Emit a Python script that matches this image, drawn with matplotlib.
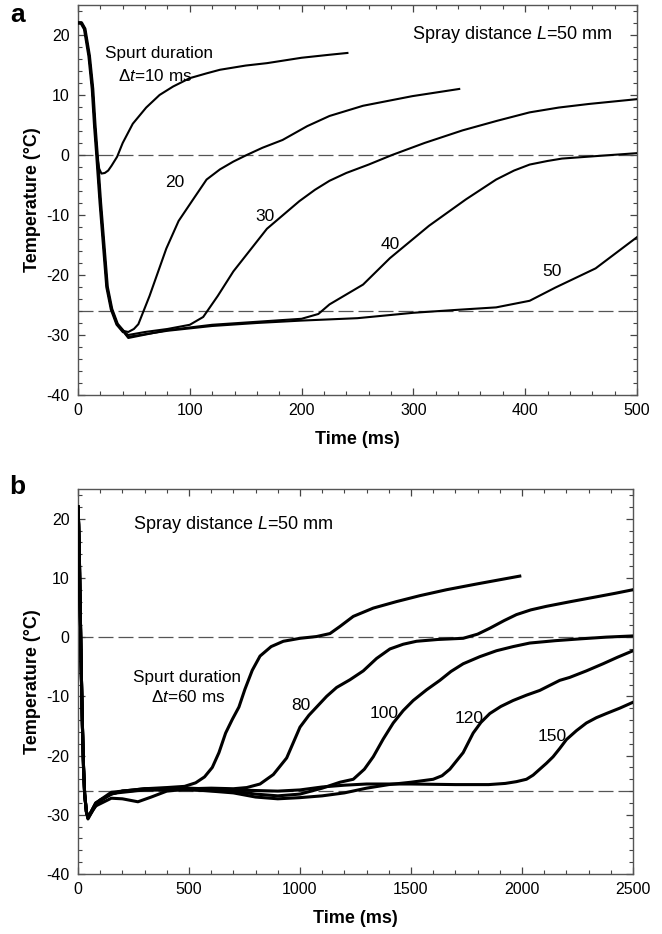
"""Spray cooling: surface temperature vs time for several spurt durations (panels a, b)."""
import matplotlib
matplotlib.use("Agg")
import matplotlib.pyplot as plt
from matplotlib.ticker import MultipleLocator

plt.rcParams["font.family"] = ["Liberation Sans", "DejaVu Sans"]
plt.rcParams["mathtext.fontset"] = "custom"
plt.rcParams["mathtext.rm"] = "Liberation Sans"
plt.rcParams["mathtext.it"] = "Liberation Sans:italic"
plt.rcParams["axes.unicode_minus"] = False

# ---- panel a: L = 50 mm, spurts of 10..50 ms (time in ms, temperature in degC)
a_drop_t = [0, 3, 6, 10, 13, 15, 17]
a_drop_T = [22, 22, 21, 16.5, 11, 5, 0]
a_fall_t = [18.5, 20, 23, 26, 30, 35, 40]
a_fall_T = [-4, -8, -15, -22, -25.7, -28.2, -29.3]

a10_t = [19, 21, 24, 27, 30, 35, 40, 49, 61, 73, 85, 100, 115, 127, 150, 169, 200, 225, 241]
a10_T = [-2.3, -3.1, -3.0, -2.6, -1.8, -0.3, 2.0, 5.2, 7.9, 10.0, 11.4, 12.8, 13.6, 14.2, 14.9,
         15.3, 16.2, 16.7, 17.0]

a20_t = [45, 50, 54, 64, 79, 90, 103, 115, 127, 139, 151, 165, 183, 205, 225, 255, 299, 341]
a20_T = [-29.5, -29.0, -28.2, -23.5, -15.6, -11.0, -7.4, -4.1, -2.4, -1.1, 0.0, 1.2, 2.5, 4.8,
         6.5, 8.2, 9.8, 11.0]

a30_t = [45, 60, 80, 100, 112, 125, 139, 169, 198, 212, 225, 240, 260, 281, 310, 344, 375, 404,
         430, 457, 500]
a30_T = [-30.0, -29.5, -29.0, -28.3, -27.0, -23.5, -19.4, -12.3, -7.7, -5.8, -4.3, -3.0, -1.6,
         0.0, 2.0, 4.1, 5.7, 7.1, 7.9, 8.5, 9.3]

a40_t = [45, 80, 120, 160, 200, 215, 225, 255, 279, 314, 347, 374, 390, 404, 420, 433, 470, 500]
a40_T = [-30.5, -29.2, -28.3, -27.8, -27.3, -26.5, -24.9, -21.6, -17.2, -11.8, -7.4, -4.1, -2.6,
         -1.6, -1.0, -0.6, -0.1, 0.3]

a50_t = [45, 80, 120, 160, 200, 250, 300, 340, 374, 404, 427, 463, 500]
a50_T = [-30.3, -29.3, -28.5, -28.0, -27.6, -27.2, -26.3, -25.8, -25.4, -24.3, -22.1, -18.9, -13.7]

# ---- panel b: L = 50 mm, spurts of 60..150 ms
b_drop_t = [0, 3, 6, 10, 15, 20, 25, 30, 38]
b_drop_T = [22, 19, 14, 5, -6, -15, -22, -26.5, -29.5]

b60_t = [45, 70, 100, 150, 200, 300, 400, 480, 530, 570, 605, 635, 665, 695, 725, 752, 785, 820,
         870, 925, 1000, 1075, 1135, 1180, 1240, 1330, 1435, 1540, 1660, 1800, 1975, 1990]
b60_T = [-30.7, -29.0, -27.5, -26.5, -26.0, -25.6, -25.4, -25.2, -24.6, -23.6, -22.0, -19.5, -16.2,
         -13.9, -11.8, -8.8, -5.6, -3.2, -1.6, -0.7, -0.2, 0.1, 0.6, 1.8, 3.5, 4.9, 6.0, 7.0, 8.0,
         9.0, 10.2, 10.3]

b80_t = [45, 80, 150, 200, 270, 330, 400, 500, 600, 700, 760, 820, 880, 940, 970, 1000, 1040, 1075,
         1120, 1165, 1225, 1285, 1345, 1405, 1465, 1525, 1620, 1735, 1800, 1855, 1920, 1975, 2040,
         2110, 2220, 2335, 2420, 2500]
b80_T = [-30.5, -28.5, -27.2, -27.3, -27.8, -27.0, -26.0, -25.6, -25.5, -25.6, -25.4, -24.8, -23.2,
         -20.4, -17.8, -15.2, -13.2, -11.8, -10.0, -8.5, -7.2, -5.7, -3.6, -2.0, -1.2, -0.7, -0.4,
         -0.2, 0.5, 1.5, 2.8, 3.8, 4.6, 5.2, 6.0, 6.8, 7.4, 8.0]

b100_t = [45, 80, 150, 200, 300, 500, 700, 800, 900, 1000, 1100, 1180, 1240, 1290, 1330, 1375, 1420,
          1465, 1510, 1570, 1630, 1680, 1735, 1810, 1885, 1960, 2035, 2150, 2260, 2380, 2500]
b100_T = [-30.5, -28.0, -26.5, -26.0, -25.8, -25.8, -26.0, -26.5, -26.8, -26.5, -25.5, -24.5, -24.0,
          -22.3, -20.2, -17.2, -14.5, -12.4, -10.7, -8.9, -7.3, -5.8, -4.5, -3.3, -2.3, -1.6, -1.0,
          -0.6, -0.3, 0.0, 0.2]

b120_t = [45, 80, 150, 300, 500, 700, 800, 900, 1000, 1100, 1200, 1300, 1400, 1500, 1600, 1640,
          1675, 1735, 1780, 1815, 1855, 1905, 1960, 2020, 2080, 2170, 2215, 2290, 2365, 2430, 2500]
b120_T = [-30.5, -28.2, -26.4, -25.8, -25.7, -26.3, -27.0, -27.3, -27.1, -26.8, -26.3, -25.5, -24.9,
          -24.5, -24.0, -23.4, -22.3, -19.5, -16.2, -14.4, -12.9, -11.7, -10.7, -9.8, -9.0, -7.3,
          -6.8, -5.7, -4.5, -3.4, -2.3]

b150_t = [45, 80, 150, 300, 500, 700, 900, 1000, 1100, 1200, 1300, 1500, 1700, 1850, 1925, 1975,
          2020, 2050, 2080, 2110, 2140, 2170, 2200, 2245, 2290, 2335, 2380, 2440, 2500]
b150_T = [-30.5, -28.0, -26.2, -25.6, -25.5, -25.8, -26.0, -25.8, -25.3, -25.0, -24.8, -24.8, -24.9,
          -24.9, -24.7, -24.4, -24.0, -23.3, -22.3, -21.3, -20.2, -18.8, -17.3, -15.8, -14.5, -13.6,
          -12.9, -12.0, -11.0]

REF_LEVELS = [0, -26]   # dashed guide lines


def style_axes(ax, xmax, xmajor, xminor):
    ax.set_xlim(0, xmax)
    ax.set_ylim(-40, 25)
    ax.xaxis.set_major_locator(MultipleLocator(xmajor))
    ax.xaxis.set_minor_locator(MultipleLocator(xminor))
    ax.yaxis.set_major_locator(MultipleLocator(10))
    ax.yaxis.set_minor_locator(MultipleLocator(2))
    ax.set_yticks([-40, -30, -20, -10, 0, 10, 20])
    ax.tick_params(which="both", direction="in", top=True, right=True, color="#444444")
    ax.tick_params(which="major", length=5, width=0.9, labelsize=11.5, pad=6)
    ax.tick_params(which="minor", length=3, width=0.8)
    for s in ax.spines.values():
        s.set_color("#555555")
        s.set_linewidth(1.0)
    for lev in REF_LEVELS:
        ax.axhline(lev, color="#555555", lw=0.9, dashes=(12, 4), zorder=1)
    ax.set_xlabel("Time (ms)", fontsize=13, fontweight="bold", labelpad=9)
    ax.set_ylabel("Temperature (\u00b0C)", fontsize=13, fontweight="bold", labelpad=4)


fig = plt.figure(figsize=(6.62, 9.34), dpi=100)
ax_a = fig.add_axes([0.1178, 0.5771, 0.8444, 0.4176])
ax_b = fig.add_axes([0.1178, 0.0642, 0.8384, 0.4122])

# panel a
lw_a = 1.5
ax_a.plot(a_drop_t + a10_t, a_drop_T + a10_T, color="black", lw=lw_a, zorder=3)
for t, T in [(a20_t, a20_T), (a30_t, a30_T), (a40_t, a40_T), (a50_t, a50_T)]:
    ax_a.plot(a_drop_t + a_fall_t + t, a_drop_T + a_fall_T + T, color="black", lw=lw_a, zorder=3)
ax_a.plot(a_drop_t + a_fall_t, a_drop_T + a_fall_T, color="black", lw=2.6, zorder=4)
style_axes(ax_a, 500, 100, 20)

ax_a.text(24, 16.9, "Spurt duration", fontsize=12.3, va="center")
ax_a.text(36, 13.1, "\u0394$t$=10 ms", fontsize=12.3, va="center")
ax_a.text(478, 20, "Spray distance $L$=50 mm", fontsize=13, va="center", ha="right")
for txt, x, y in [("20", 87, -4.6), ("30", 167, -10.3), ("40", 279, -15), ("50", 424, -19.5)]:
    ax_a.text(x, y, txt, fontsize=12.5, ha="center", va="center")

# panel b
lw_b = 2.2
for t, T in [(b60_t, b60_T), (b80_t, b80_T), (b100_t, b100_T), (b120_t, b120_T), (b150_t, b150_T)]:
    ax_b.plot(b_drop_t + t, b_drop_T + T, color="black", lw=lw_b, zorder=3)
style_axes(ax_b, 2500, 500, 100)

ax_b.text(248, 19, "Spray distance $L$=50 mm", fontsize=13, va="center")
ax_b.text(248, -6.8, "Spurt duration", fontsize=12.3, va="center")
ax_b.text(495, -10.1, "\u0394$t$=60 ms", fontsize=12.3, va="center", ha="center")
for txt, x, y in [("80", 1005, -11.5), ("100", 1378, -12.9), ("120", 1761, -13.8), ("150", 2135, -16.8)]:
    ax_b.text(x, y, txt, fontsize=12.5, ha="center", va="center")

fig.text(0.026, 0.984, "a", fontsize=19, fontweight="bold", ha="center", va="center")
fig.text(0.026, 0.479, "b", fontsize=19, fontweight="bold", ha="center", va="center")

fig.savefig("out.png", dpi=100)
